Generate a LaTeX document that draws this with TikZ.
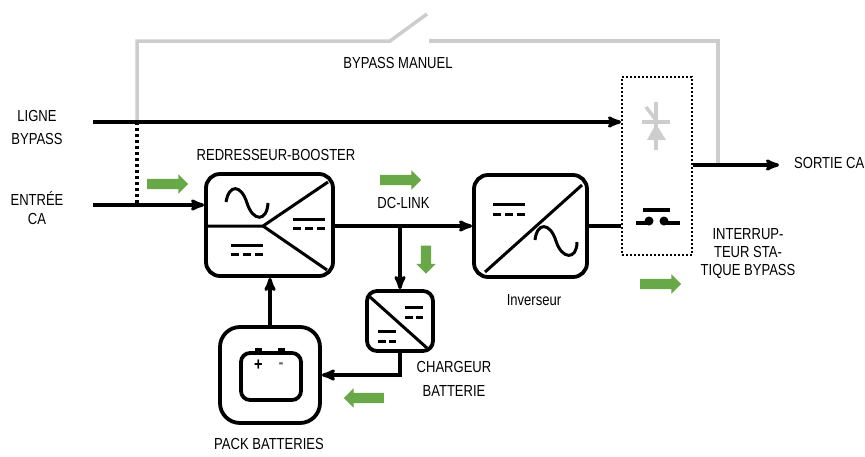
\documentclass[tikz,border=0pt]{standalone}
\usepackage{fontspec}
\setmainfont[FakeStretch=0.815]{Liberation Sans}
\usetikzlibrary{shapes,arrows,positioning}
\definecolor{bypassgrey}{RGB}{205,205,205}
\definecolor{flowgreen}{RGB}{104,168,72}
\tikzset{
	conv/.style={draw,line width=3.8pt,rounded corners=14pt,inner sep=0pt},
	wire/.style={line width=3.2pt},
	link/.style={line width=3.2pt,->,>=stealth'},
	thin wire/.style={line width=3pt},
	greywire/.style={line width=3.5pt,draw=bypassgrey},
	flow/.style={single arrow,fill=flowgreen,inner sep=5pt,minimum width=19pt,minimum height=41pt,single arrow head extend=4.5pt,single arrow head indent=0pt},
	lbl/.style={font=\fontsize{16}{18}\selectfont,inner sep=0pt}
}
\begin{document}
\begin{tikzpicture}[x=1pt,y=-1pt]
	\useasboundingbox (0,0) rectangle (865,456);
	% blocks
	\node[conv,minimum width=127pt,minimum height=102pt] (R) at (269.5,225) {};
	\node[conv,minimum width=113pt,minimum height=102pt] (I) at (530.5,226) {};
	\node[conv,rounded corners=10pt,minimum width=66pt,minimum height=60pt] (C) at (400,321) {};
	\node[conv,rounded corners=20pt,minimum width=100pt,minimum height=96pt] (P) at (270,375) {};
	\node[conv,rounded corners=9pt,minimum width=60pt,minimum height=47pt] (B) at (271,376.5) {};
	\node[draw,line width=2pt,dash pattern=on 2pt off 2pt,minimum width=70pt,minimum height=178pt,inner sep=0pt] (S) at (657,166) {};
	% free ends
	\coordinate (in) at (93,205);
	\coordinate (byp) at (93,122);
	\coordinate (out) at (779,165);
	\coordinate (J) at (400,226);
	\coordinate (T) at (137,122);
	\coordinate (Tin) at (137,205);
	\coordinate (G1) at (137,41);
	\coordinate (G2) at (390,41);
	\coordinate (G3) at (427,14);
	\coordinate (G4) at (429,41);
	\coordinate (G5) at (718,41);
	\coordinate (G6) at (718,165);
	% connectors
	\draw[greywire] (T) -- (G1) -- (G2) -- (G3);
	\draw[greywire] (G4) -- (G5) -- (G6);
	\draw[line width=3.2pt,dash pattern=on 3pt off 3pt] (T) -- (Tin);
	\draw[link] (in) -- (R.west |- in);
	\draw[link] (byp) -- (S.west |- byp);
	\draw[link] (S.east |- out) -- (out);
	\draw[link] (R.east |- J) -- (I.west |- J);
	\draw[link] (J) -- (C.north -| J);
	\draw[wire] (I.east |- J) -- (S.west |- J);
	\draw[link] (C.south) |- (P.east |- 0,375);
	\draw[link] (P.north) -- (R.south -| P.north);
	% rectifier
	\coordinate (Rc) at (263,226);
	\draw[thin wire] (R.west |- Rc) -- (Rc) -- (328,182);
	\draw[thin wire] (Rc) -- (327,270);
	\draw[thin wire] (226,202) .. controls (229,184) and (241,184) .. (247,203) .. controls (253,222) and (267,222) .. (268,203);
	\foreach \x/\y/\w [count=\n] in {231/248/32,293/222/32} {
		\draw[thin wire] (\x,\y-3) -- ++(\w,0);
		\draw[thin wire,dash pattern=on 8pt off 4pt] (\x,\y+6) -- ++(\w,0);
	}
	% inverter
	\draw[thin wire] (485,272) -- (582,185);
	\draw[thin wire] (493,204) -- ++(32,0);
	\draw[thin wire,dash pattern=on 8pt off 4pt] (493,214) -- ++(32,0);
	\draw[thin wire] (535,240) .. controls (537,222) and (550,222) .. (556,241) .. controls (562,260) and (577,260) .. (577,242);
	% charger
	\draw[thin wire] (370,297) -- (427,348);
	\foreach \x/\y in {405/307,378/331} {
		\draw[thin wire] (\x,\y) -- ++(18,0);
		\draw[thin wire,dash pattern=on 8pt off 3pt] (\x,\y+10) -- ++(18,0);
	}
	% battery
	\foreach \x in {258.5,281.5} \fill (\x-3.5,347.5) rectangle (\x+3.5,355);
	\node[font=\fontsize{18}{18}\selectfont\bfseries,inner sep=0pt] (plus) at (258.5,365.5) {+};
	\node[font=\fontsize{18}{18}\selectfont\bfseries,inner sep=0pt,text=black!60] (minus) at (281,365.5) {-};
	% thyristor
	\draw[line width=3.5pt,bypassgrey] (656,102) -- (656,150);
	\draw[line width=3.5pt,bypassgrey] (642,122) -- (670,122);
	\draw[line width=3.5pt,bypassgrey] (646,107) -- (656,120);
	\fill[bypassgrey] (656,124) -- (666,140) -- (647,140) -- cycle;
	% static switch
	\draw[line width=4pt] (643,210) -- (670,210);
	\draw[line width=4pt] (636,223) -- (648,223);
	\draw[line width=4pt] (665,223) -- (680,223);
	\fill (649,221) circle (4.5pt) (664,221) circle (4.5pt);
	% green arrows
	\node[flow] (F1) at (165,184) {};
	\node[flow] (F2) at (398,180) {};
	\node[flow,rotate=-90,minimum height=28pt] (F3) at (426,257) {};
	\node[flow] (F4) at (658,284) {};
	\node[flow,rotate=180,minimum height=40pt] (F5) at (366.5,398) {};
	% labels
	\node[lbl] (t1) at (37,116) {LIGNE};
	\node[lbl] (t2) at (37,139) {BYPASS};
	\node[lbl,align=center] (t3) at (37,208) {ENTRÉE\\[1pt]CA};
	\node[lbl] (t4) at (276,155) {REDRESSEUR-BOOSTER};
	\node[lbl] (t5) at (398,63) {BYPASS MANUEL};
	\node[lbl] (t6) at (403.5,203) {DC-LINK};
	\node[lbl,anchor=west] (t7) at (794,163) {SORTIE CA};
	\node[lbl,align=center] (t8) at (748,254) {INTERRUP-\\TEUR STA-\\TIQUE BYPASS};
	\node[lbl] (t9) at (534,300) {Inverseur};
	\node[lbl] (t10) at (454,367) {CHARGEUR};
	\node[lbl] (t11) at (454,391) {BATTERIE};
	\node[lbl] (t12) at (269,444) {PACK BATTERIES};
\end{tikzpicture}
\end{document}
